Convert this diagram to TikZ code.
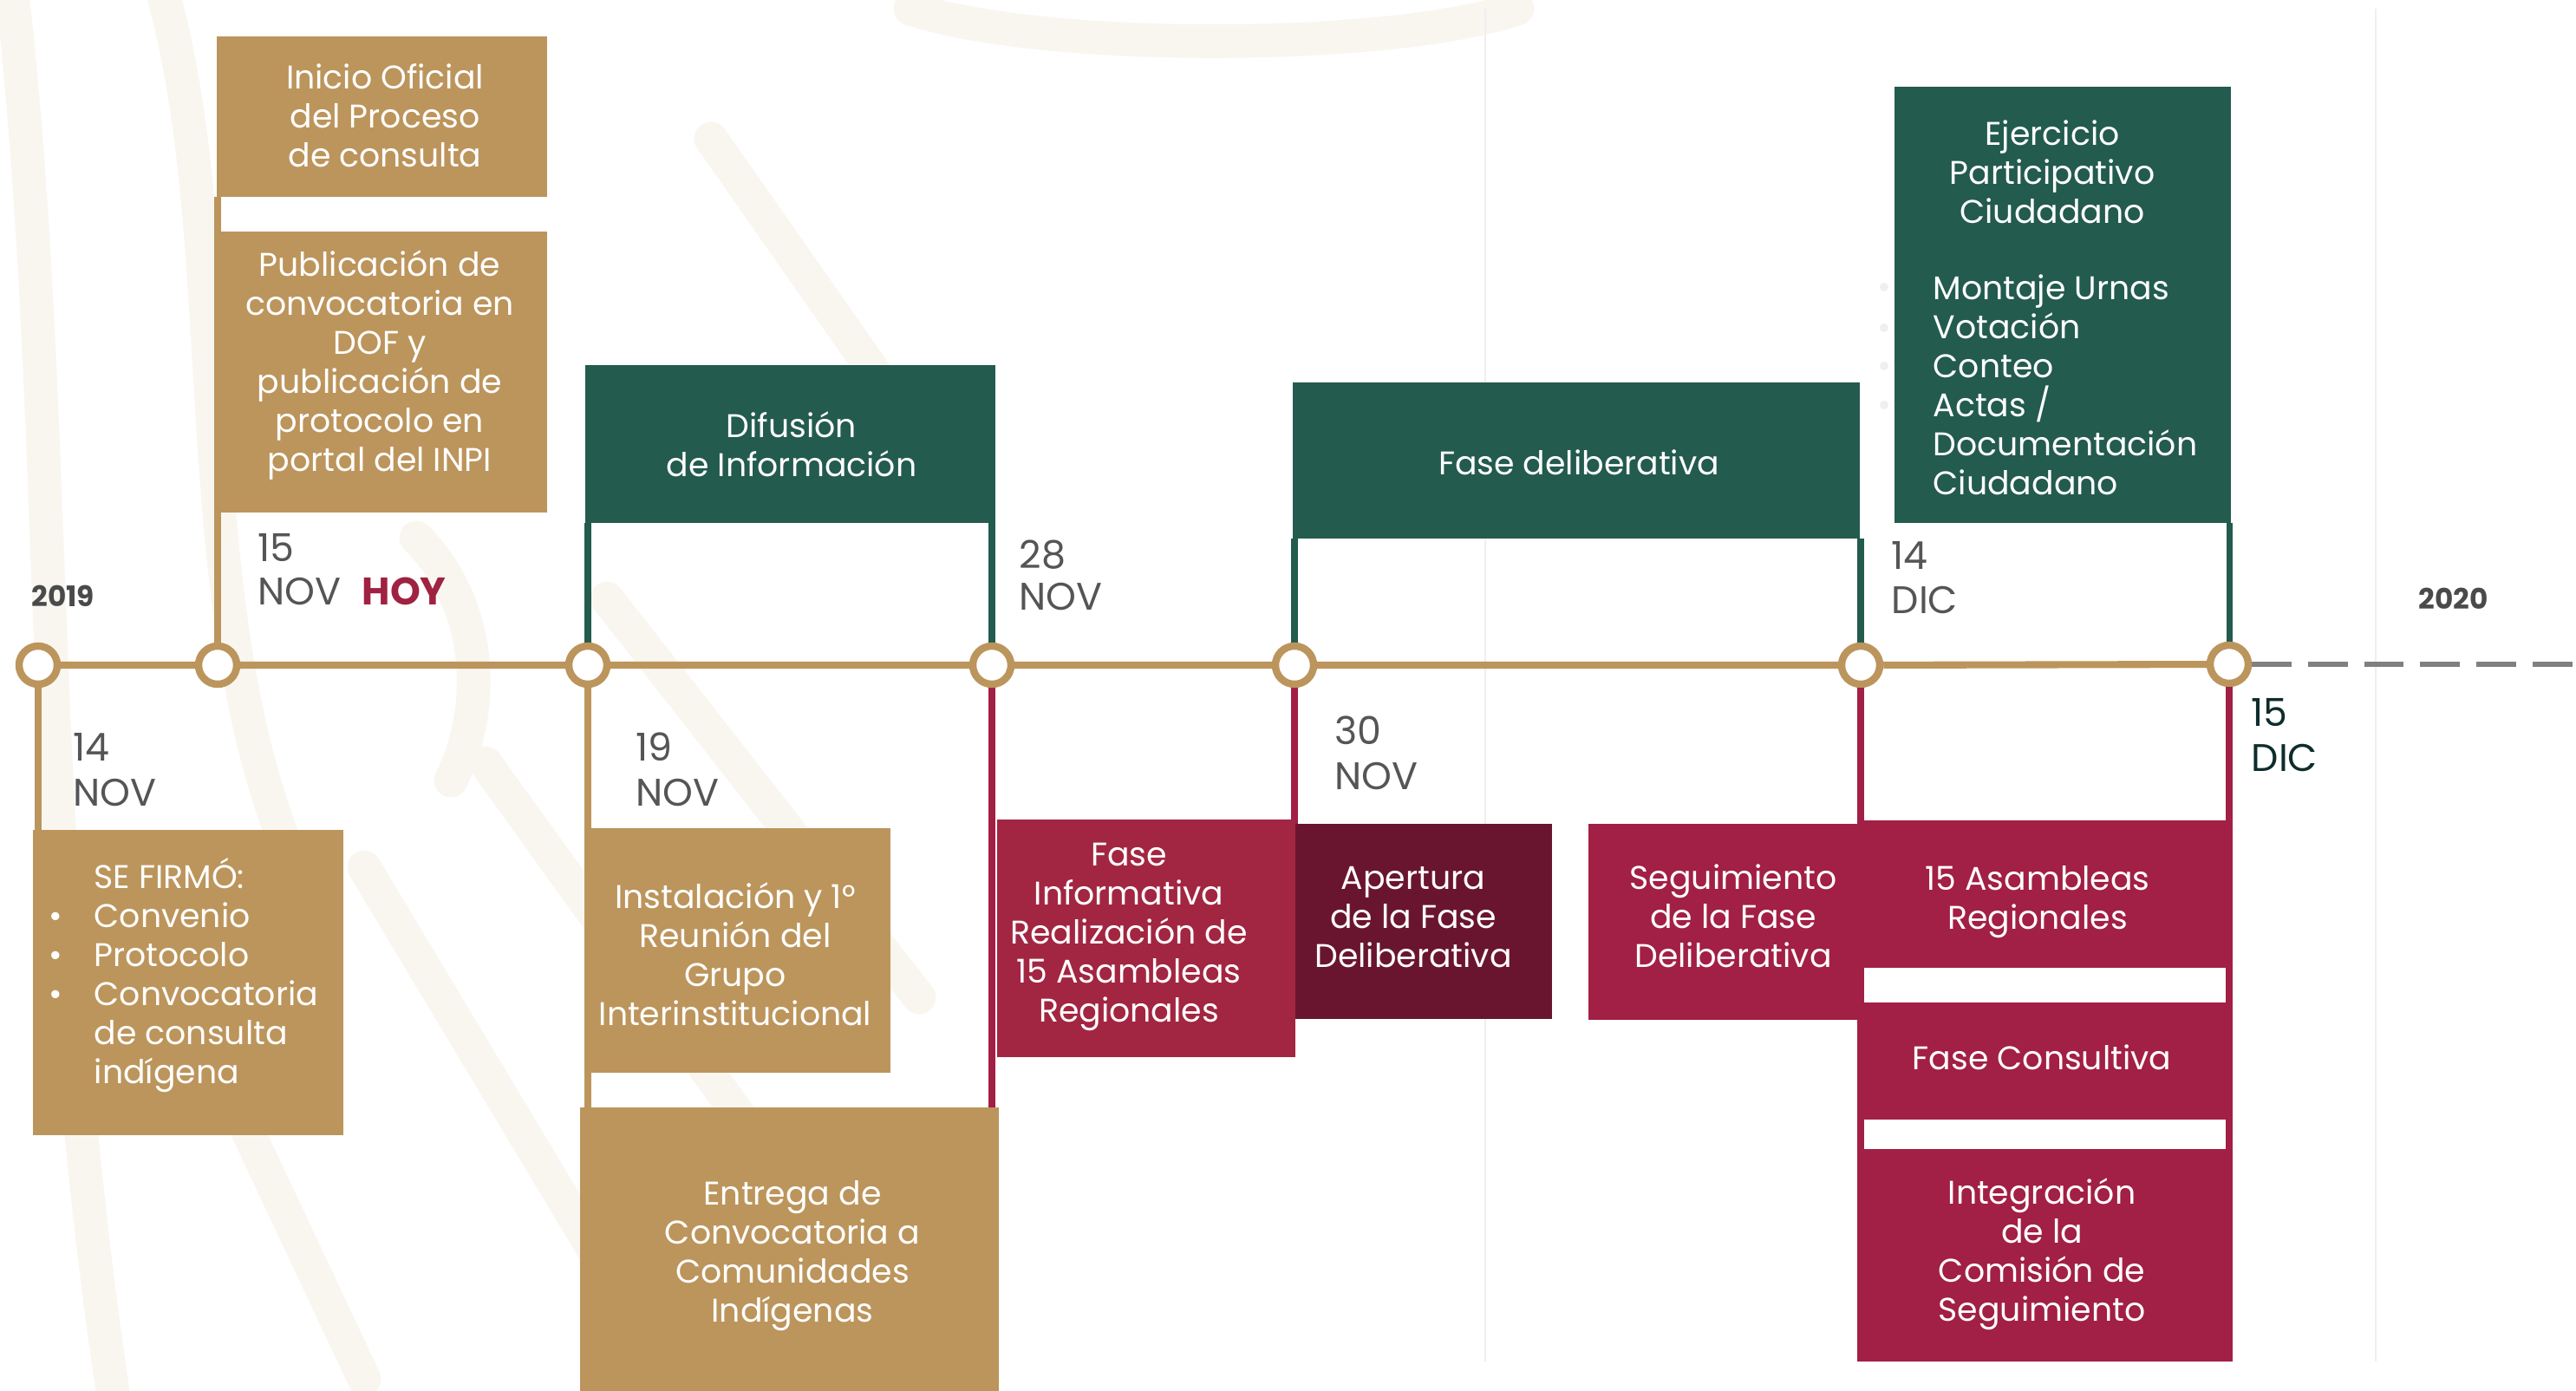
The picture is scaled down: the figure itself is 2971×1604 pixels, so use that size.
\documentclass[tikz,border=0pt]{standalone}
\usepackage{fontspec}
\setmainfont{Poppins}
\pgfdeclarelayer{deco}
\pgfdeclarelayer{bg}
\pgfsetlayers{deco,bg,main}
\definecolor{gold1}{HTML}{BC955C}
\definecolor{green1}{HTML}{235B4E}
\definecolor{red1}{HTML}{A22641}
\definecolor{red2}{HTML}{A21F45}
\definecolor{maroon1}{HTML}{6A152F}
\definecolor{dategray}{HTML}{555555}
\definecolor{dicdark}{HTML}{0E2C2C}
\definecolor{hoyred}{HTML}{9F2241}
\definecolor{yeargray}{HTML}{4A4A4A}
\definecolor{dashgray}{HTML}{808080}
\definecolor{gridgray}{HTML}{EFEFEF}
\definecolor{bgbeige}{HTML}{F9F6F0}
\newcommand{\bulmark}{\llap{\makebox[14.8pt][l]{•}}}
\tikzset{
  box/.style={rectangle, inner sep=0pt, outer sep=0pt, draw=none},
  txt/.style={inner sep=0pt, text=white, align=center, font=\fontsize{10.75}{12.8}\selectfont},
  dot/.style={circle, draw=gold1, line width=2.4pt, fill=white, minimum size=0.44cm, inner sep=0pt},
  datelbl/.style={inner sep=0pt, anchor=base west, text=dategray, font=\fontsize{12.6}{14}\selectfont},
  yearlbl/.style={inner sep=0pt, anchor=base west, text=yeargray, font=\fontsize{9.3}{10}\selectfont\bfseries},
  tl/.style={draw=gold1, line width=2.3pt},
  vl/.style={line width=2pt},
  dashline/.style={draw=dashgray, line width=1.7pt, dash pattern=on 13pt off 5.4pt},
  gridl/.style={draw=gridgray, line width=0.5pt},
  bgpat/.style={draw=bgbeige, line width=11pt, line cap=round}
}
\begin{document}
\begin{tikzpicture}[x=0.01cm,y=-0.01cm]
\useasboundingbox (0,0) rectangle (2971,1604);
\begin{pgfonlayer}{deco}
  \fill[white] (0,0) rectangle (2971,1604);
  % faint background pattern
  \draw[bgpat] (15,0) .. controls (70,500) and (40,1000) .. (130,1604);
  \draw[bgpat] (190,0) .. controls (270,300) and (210,700) .. (340,1000);
  \draw[bgpat] (420,1000) -- (720,1500);
  \draw[bgpat] (560,880) -- (920,1380);
  \draw[bgpat] (260,1250) -- (420,1590);
  \draw[bgpat] (700,690) -- (1060,1150);
  \draw[bgpat] (480,620) .. controls (560,700) and (560,820) .. (520,900);
  \draw[bgpat] (1050,10) .. controls (1200,60) and (1600,60) .. (1750,10);
  \draw[bgpat] (820,160) -- (1100,560);
  % faint grid lines
  \draw[gridl] (1713,10) -- (1713,1570);
  \draw[gridl] (2740,10) -- (2740,1570);
  % faint bullets outside the list box
  \foreach \yy in {331,378,422,467} \fill[gridgray] (2173,\yy) circle (5);
\end{pgfonlayer}

% timeline markers
\node[dot] (c1) at (44,767) {};
\node[dot] (c2) at (251,767) {};
\node[dot] (c3) at (678,767) {};
\node[dot] (c4) at (1144,767) {};
\node[dot] (c5) at (1493,767) {};
\node[dot] (c6) at (2146,767) {};
\node[dot] (c7) at (2571,766) {};
\coordinate (tend) at (2971,766);

% boxes
\node[box, fill=gold1, minimum width=3.81cm, minimum height=1.85cm] (inicio) at (440.5,134.5) {};
\node[box, fill=gold1, minimum width=3.81cm, minimum height=3.24cm] (pub) at (440.5,429) {};
\node[box, fill=green1, minimum width=4.73cm, minimum height=1.82cm] (dif) at (911.5,512) {};
\node[box, fill=green1, minimum width=6.54cm, minimum height=1.80cm] (delib) at (1818,531) {};
\node[box, fill=green1, minimum width=3.88cm, minimum height=5.03cm] (ejer) at (2379,351.5) {};
\node[box, fill=gold1, minimum width=3.58cm, minimum height=3.52cm] (firmo) at (217,1133) {};
\node[box, fill=gold1, minimum width=3.49cm, minimum height=2.82cm] (inst) at (852.5,1096) {};
\node[box, fill=gold1, minimum width=4.83cm, minimum height=3.27cm] (entrega) at (910.5,1440.5) {};
\node[box, fill=red1, minimum width=3.44cm, minimum height=2.74cm] (finf) at (1322,1082) {};
\node[box, fill=maroon1, minimum width=2.96cm, minimum height=2.25cm] (apert) at (1642,1062.5) {};
\node[box, fill=red2, minimum width=3.15cm, minimum height=2.26cm] (segui) at (1989.5,1063) {};
\node[box, fill=red2, minimum width=4.32cm, minimum height=1.70cm] (asam) at (2359,1031) {};
\node[box, fill=red2, minimum width=4.32cm, minimum height=1.35cm] (cons) at (2359,1223.5) {};
\node[box, fill=red2, minimum width=4.32cm, minimum height=2.45cm] (integ) at (2359,1447.5) {};

% connectors
\begin{pgfonlayer}{bg}
  \draw[tl] (c1) -- (c2) -- (c3) -- (c4) -- (c5) -- (c6) -- (c7);
  \draw[dashline] (c7) -- (tend);
  \draw[vl, gold1] (c1) -- (firmo.north -| c1);
  \draw[vl, gold1] (c2) -- (inicio.south -| c2);
  \draw[vl, green1] (c3) -- (dif.south -| c3);
  \draw[vl, gold1] (c3) -- (entrega.north -| c3);
  \draw[vl, green1] (c4) -- (dif.south -| c4);
  \draw[vl, red2] (c4) -- (entrega.north -| c4);
  \draw[vl, green1] (c5) -- (delib.south -| c5);
  \draw[vl, red2] (c5) -- (apert.north -| c5);
  \draw[vl, green1] (c6) -- (delib.south -| c6);
  \draw[vl, green1] (c7) -- (ejer.south -| c7);
\end{pgfonlayer}
\draw[red2, line width=2.3pt] (c6) -- (integ.south -| c6);
\draw[red2, line width=2.3pt] (c7) -- (integ.south -| c7);

% box texts
\node[txt] (tinicio) at (444,133) {Inicio Oficial\\del Proceso\\de consulta};
\node[txt] (tpub) at (438,421) {Publicación de\\convocatoria en\\DOF y\\publicación de\\protocolo en\\portal del INPI};
\node[txt] (tdif) at (913,512) {Difusión\\de Información};
\node[txt] (tdelib) at (1821,533) {Fase deliberativa};
\node[txt] (tejer) at (2367,198) {Ejercicio\\Participativo\\Ciudadano};
\node[txt, align=left, anchor=west] (tejerl) at (2229,444) {Montaje Urnas\\Votación\\Conteo\\Actas /\\Documentación\\Ciudadano};
\node[txt, align=left, anchor=west] (tfirmo) at (108,1125) {SE FIRMÓ:\\\bulmark Convenio\\\bulmark Protocolo\\\bulmark Convocatoria\\de consulta\\indígena};
\node[txt] (tinst) at (848,1100) {Instalación y 1°\\Reunión del\\Grupo\\Interinstitucional};
\node[txt] (tentrega) at (914,1448) {Entrega de\\Convocatoria a\\Comunidades\\Indígenas};
\node[txt] (tfinf) at (1302,1080) {Fase\\Informativa\\Realización de\\15 Asambleas\\Regionales};
\node[txt] (tapert) at (1630,1058) {Apertura\\de la Fase\\Deliberativa};
\node[txt] (tsegui) at (1999,1056) {Seguimiento\\de la Fase\\Deliberativa};
\node[txt] (tasam) at (2350,1040) {15 Asambleas\\Regionales};
\node[txt] (tcons) at (2355,1219) {Fase Consultiva};
\node[txt] (tinteg) at (2355,1446) {Integración\\de la\\Comisión de\\Seguimiento};

% date labels
\node[datelbl] (d1a) at (84,878) {14};
\node[datelbl] (d1b) at (84,930) {NOV};
\node[datelbl] (d2a) at (297,648) {15};
\node[datelbl] (d2b) at (297,698) {NOV};
\node[datelbl, text=hoyred, font=\fontsize{12.6}{14}\selectfont\bfseries] (hoy) at (417,698) {HOY};
\node[datelbl] (d3a) at (733,878) {19};
\node[datelbl] (d3b) at (733,930) {NOV};
\node[datelbl] (d4a) at (1175,656) {28};
\node[datelbl] (d4b) at (1175,704) {NOV};
\node[datelbl] (d5a) at (1539,859) {30};
\node[datelbl] (d5b) at (1539,911) {NOV};
\node[datelbl] (d6a) at (2181,657) {14};
\node[datelbl] (d6b) at (2181,708) {DIC};
\node[datelbl, text=dicdark] (d7a) at (2596,838) {15};
\node[datelbl, text=dicdark] (d7b) at (2596,890) {DIC};
\node[yearlbl] (y19) at (36,700) {2019};
\node[yearlbl] (y20) at (2789,703) {2020};
\end{tikzpicture}
\end{document}
